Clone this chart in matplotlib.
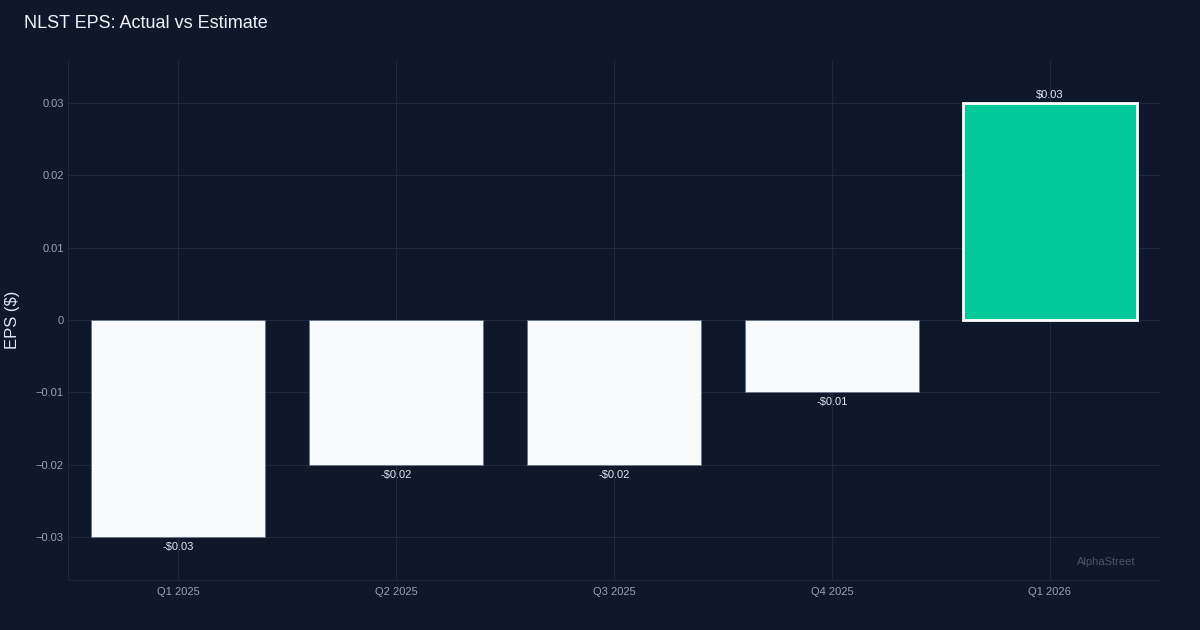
import matplotlib
matplotlib.use("Agg")
import matplotlib.pyplot as plt
from matplotlib.ticker import FuncFormatter

categories = ["Q1 2025", "Q2 2025", "Q3 2025", "Q4 2025", "Q1 2026"]
eps_actual = [-0.03, -0.02, -0.02, -0.01, 0.03]
value_labels = ["-$0.03", "-$0.02", "-$0.02", "-$0.01", "$0.03"]
yticks = [-0.03, -0.02, -0.01, 0, 0.01, 0.02, 0.03]

BG = "#0f172a"
GRID = "#1e293b"
TICK = "#94a3b8"

plt.rcParams['font.family'] = ['Liberation Sans', 'DejaVu Sans']

fig = plt.figure(figsize=(12, 6.3), dpi=100, facecolor=BG)
ax = fig.add_axes([68/1200, 1 - 580/630, (1160-68)/1200, (580-60)/630])
ax.set_facecolor(BG)

x = list(range(len(categories)))
colors = ["#00c896" if v > 0 else "#f8fafc" for v in eps_actual]
edges = ["#ffffff" if v > 0 else "#64748b" for v in eps_actual]
lws = [2.0 if v > 0 else 0.6 for v in eps_actual]
bars = ax.bar(x, eps_actual, width=0.8, color=colors, edgecolor=edges, linewidth=lws, zorder=3)

for xi, v, lab in zip(x, eps_actual, value_labels):
    if v >= 0:
        ax.annotate(lab, (xi, v), xytext=(0, 2.5), textcoords="offset points",
                    ha="center", va="bottom", color="#e2e8f0", fontsize=8, zorder=4)
    else:
        ax.annotate(lab, (xi, v), xytext=(0, -3.5), textcoords="offset points",
                    ha="center", va="top", color="#e2e8f0", fontsize=8, zorder=4)

ax.set_xlim(-0.505, 4.505)
ax.set_ylim(-0.03595, 0.03595)
ax.set_xticks(x)
ax.set_xticklabels(categories)
ax.set_yticks(yticks)

def fmt(v, pos):
    if abs(v) < 1e-12:
        return "0"
    s = f"{v:.2f}"
    return s.replace("-", "\u2212")
ax.yaxis.set_major_formatter(FuncFormatter(fmt))

ax.grid(True, color=GRID, linewidth=0.8, zorder=0)
ax.tick_params(axis="x", colors=TICK, labelsize=8, length=0, pad=5)
ax.tick_params(axis="y", colors=TICK, labelsize=8, length=0, pad=3)
for side in ["top", "right"]:
    ax.spines[side].set_visible(False)
for side in ["left", "bottom"]:
    ax.spines[side].set_color(GRID)
    ax.spines[side].set_linewidth(0.8)

fig.text(13/1200, 1 - 320/630, "EPS ($)", color="#e2e8f0", fontsize=12,
         rotation=90, ha="center", va="center")

fig.text(24/1200, 1 - 24/630, "NLST EPS: Actual vs Estimate", color="#f1f5f9",
         fontsize=13, ha="left", va="center")
fig.text(1106/1200, 1 - 562/630, "AlphaStreet", color="#475569",
         fontsize=8, ha="center", va="center")

fig.savefig("out.png", dpi=100, facecolor=BG)
